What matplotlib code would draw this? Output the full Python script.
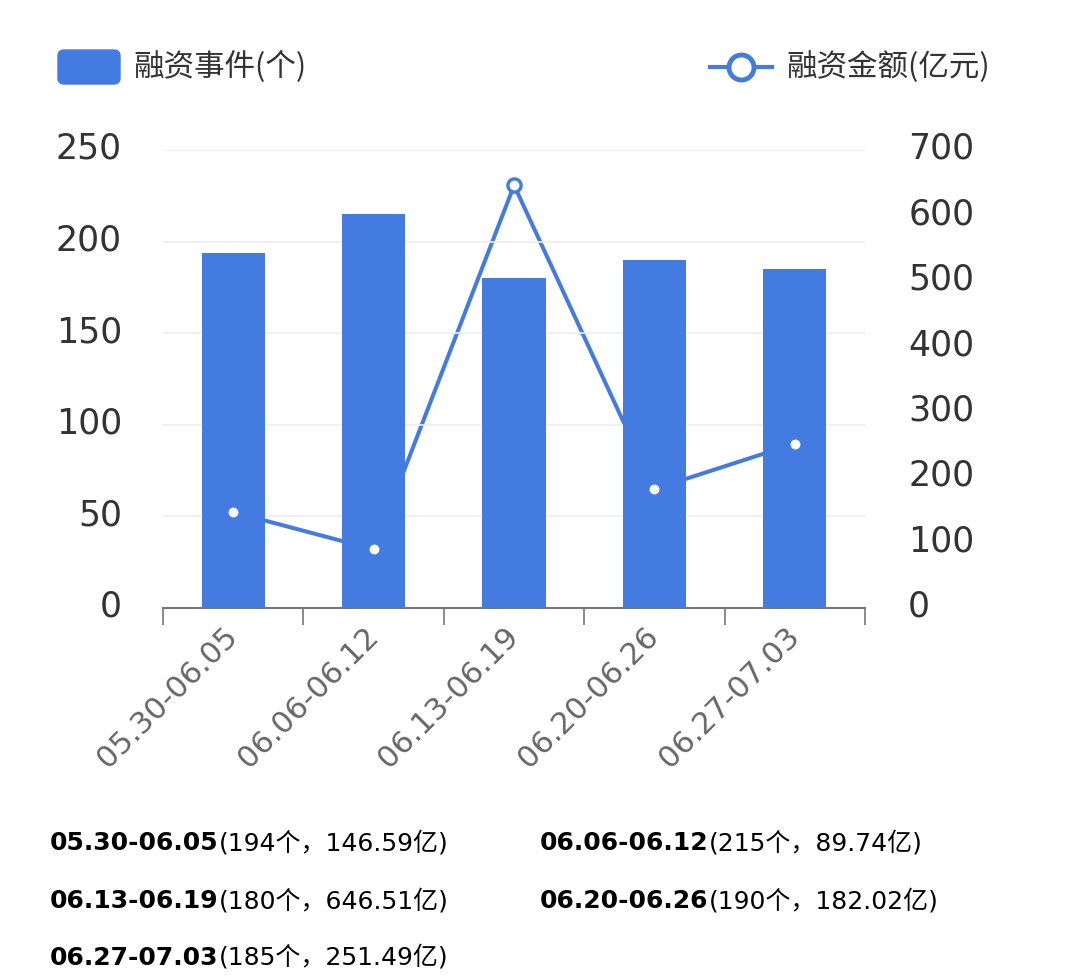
import matplotlib
matplotlib.use("Agg")
import matplotlib.pyplot as plt
import matplotlib.transforms as mtransforms
from matplotlib.patches import FancyBboxPatch
from matplotlib.lines import Line2D

plt.rcParams['font.family'] = ['DejaVu Sans', 'Noto Sans CJK SC']
CJK = ['Noto Sans CJK SC', 'DejaVu Sans']

categories = ["05.30-06.05", "06.06-06.12", "06.13-06.19", "06.20-06.26", "06.27-07.03"]
events = [194, 215, 180, 190, 185]
amounts = [146.59, 89.74, 646.51, 182.02, 251.49]
left_ticks = [0, 50, 100, 150, 200, 250]
right_ticks = [0, 100, 200, 300, 400, 500, 600, 700]
bar_label = "融资事件(个)"
line_label = "融资金额(亿元)"

BLUE = "#447BE0"

fig = plt.figure(figsize=(10.8, 9.76), dpi=100)
ax = fig.add_axes([0.151, 0.377, 0.650, 0.469])
ax2 = ax.twinx()

x = list(range(len(categories)))

# line behind bars
ax.set_zorder(2)
ax2.set_zorder(1)
ax.patch.set_visible(False)
ax2.plot(x, amounts, color=BLUE, lw=2.9, zorder=1)

ax.bar(x, events, width=0.45, color=BLUE, zorder=3)
# markers above bars
ax.plot(x, [a * 250 / 700 for a in amounts], linestyle='none', marker='o', ms=9.5,
        mfc='white', mec=BLUE, mew=2.4, zorder=4, clip_on=False)

ax.set_xlim(-0.5, len(categories) - 0.5)
ax.set_ylim(0, 250)
ax2.set_ylim(0, 700)
ax.set_yticks(left_ticks)
ax2.set_yticks(right_ticks)
ax.yaxis.grid(True, color='#EBEEF2', lw=1.2)
ax.set_axisbelow(True)

ax.set_xticks([i - 0.5 for i in range(len(categories) + 1)], minor=False)
ax.set_xticklabels([''] * (len(categories) + 1))
ax.set_xticks(x, minor=True)
ax.set_xticklabels(categories, minor=True, rotation=45, ha='right', va='center',
                   rotation_mode='anchor', color='#666666', fontsize=22)
ax.tick_params(axis='x', which='major', length=12, width=1.2, color='#777777', direction='out')
ax.tick_params(axis='x', which='minor', length=0, pad=17)

for a in (ax, ax2):
    for s in ('top', 'left', 'right', 'bottom'):
        a.spines[s].set_visible(False)
ax.spines['bottom'].set_visible(True)
ax.spines['bottom'].set_color('#777777')
ax.spines['bottom'].set_linewidth(1.5)

ax.tick_params(axis='y', length=0, pad=29.5, labelsize=25, labelcolor='#333333')
ax2.tick_params(axis='y', length=0, pad=31, labelsize=25, labelcolor='#333333')
up = mtransforms.ScaledTranslation(0, 3.5 / 72, fig.dpi_scale_trans)
for tk in ax.yaxis.get_major_ticks():
    tk.label1.set_transform(tk.label1.get_transform() + up)
for tk in ax2.yaxis.get_major_ticks():
    tk.label2.set_transform(tk.label2.get_transform() + up)

# legend
fig.patches.append(FancyBboxPatch((58 / 1080, 1 - 84 / 976), 62 / 1080, 34 / 976,
                                  boxstyle="round,pad=0,rounding_size=0.006",
                                  transform=fig.transFigure, color=BLUE))
fig.text(133 / 1080, 1 - 67 / 976, bar_label, fontsize=22, color='#333333', va='center', family=CJK)
fig.lines.append(Line2D([710 / 1080, 772 / 1080], [1 - 67 / 976, 1 - 67 / 976],
                        transform=fig.transFigure, color=BLUE, lw=3))
fig.lines.append(Line2D([741 / 1080], [1 - 67 / 976], transform=fig.transFigure,
                        marker='o', ms=18, mfc='white', mec=BLUE, mew=3.5, linestyle='none'))
fig.text(786 / 1080, 1 - 67 / 976, line_label, fontsize=22, color='#333333', va='center', family=CJK)

# bottom summary
positions = [(50, 843), (540, 843), (50, 901), (540, 901), (50, 958)]
for (px, py), c, e, m in zip(positions, categories, events, amounts):
    t = fig.text(px / 1080, 1 - py / 976, c, fontsize=18, fontweight='bold', color='black', va='center')
    ax.annotate(f"({e}个，{m:.2f}亿)", xy=(1, 0), xycoords=t, va='bottom', ha='left',
                fontsize=18, color='black', annotation_clip=False)

fig.savefig("out.png", dpi=100)
